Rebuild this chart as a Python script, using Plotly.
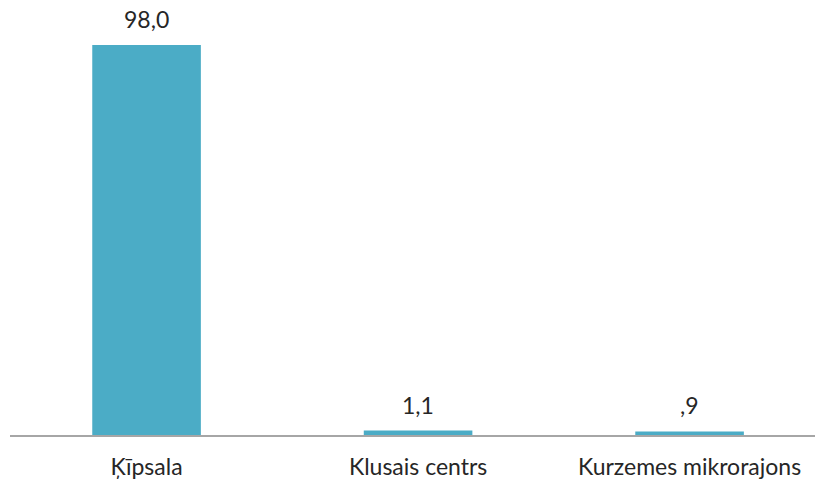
import plotly.graph_objects as go

categories = ["Ķīpsala", "Klusais centrs", "Kurzemes mikrorajons"]
values = [98.0, 1.1, 0.9]
value_labels = ["98,0", "1,1", ",9"]

FONT = "Lato"
TXT = "#262626"

fig = go.Figure(go.Bar(
    x=categories,
    y=values,
    marker=dict(color="#4BACC6", line=dict(width=0)),
    width=0.4,
    cliponaxis=False,
    hoverinfo="skip",
))

for c, v, t in zip(categories, values, value_labels):
    fig.add_annotation(
        x=c, y=v, text=t, showarrow=False,
        yanchor="bottom", yshift=10,
        font=dict(family=FONT, size=23, color=TXT),
    )

fig.update_layout(
    width=815, height=483,
    margin=dict(l=10, r=0, t=13, b=48),
    paper_bgcolor="white", plot_bgcolor="white",
    showlegend=False,
    xaxis=dict(
        range=[-0.503, 2.462],
        showline=True, linecolor="#A6A6A6", linewidth=2,
        showgrid=False, ticks="",
        ticklabelstandoff=10,
        tickfont=dict(family=FONT, size=23, color=TXT),
    ),
    yaxis=dict(
        range=[0, 106.04],
        visible=False, showgrid=False, zeroline=False,
    ),
)

fig.write_html(
    "out.html",
    config={"displayModeBar": False},
    post_script="document.body.style.margin='0';document.body.style.overflow='hidden';",
)
